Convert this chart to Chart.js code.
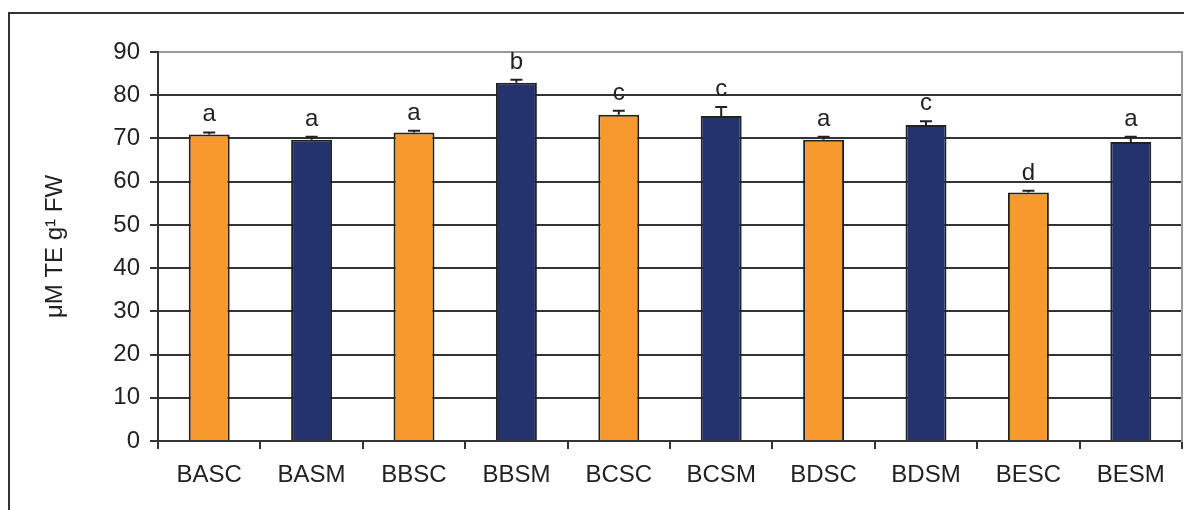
<!DOCTYPE html>
<html>
<head>
<meta charset="utf-8">
<title>Antioxidant capacity</title>
<script src="https://cdn.jsdelivr.net/npm/chart.js@4.4.1/dist/chart.umd.min.js"></script>
<style>
    body { margin: 0; background: #fff; }
    #wrap { position: relative; width: 1184px; height: 510px; }
</style>
</head>
<body>
<div id="wrap"><canvas id="antioxChart"></canvas></div>
<script>
// Data
const categories = ['BASC', 'BASM', 'BBSC', 'BBSM', 'BCSC', 'BCSM', 'BDSC', 'BDSM', 'BESC', 'BESM'];
const means = [70.9, 69.7, 71.4, 82.9, 75.5, 75.2, 69.7, 73.1, 57.5, 69.2];
const errors = [0.5, 0.7, 0.4, 0.7, 0.9, 2.1, 0.7, 0.9, 0.4, 1.2];
const letters = ['a', 'a', 'a', 'b', 'c', 'c', 'a', 'c', 'd', 'a'];
const yTicks = [0, 10, 20, 30, 40, 50, 60, 70, 80, 90];

const orange = '#F7992D';
const navy = '#24326E';
const barColors = categories.map((c, i) => i % 2 === 0 ? orange : navy);
const font = 'Liberation Sans, Arial, sans-serif';

// Outer frame of the figure (only top and left edges are inside the picture)
const framePlugin = {
    id: 'frame',
    beforeDraw(chart) {
        const c = chart.ctx;
        c.save();
        c.strokeStyle = '#333';
        c.lineWidth = 2;
        c.beginPath();
        c.moveTo(9, chart.height);
        c.lineTo(9, 13);
        c.lineTo(chart.width, 13);
        c.stroke();
        c.restore();
    }
};

// Upper error bars and significance letters
const errorPlugin = {
    id: 'errorBars',
    afterDatasetsDraw(chart) {
        const c = chart.ctx;
        const meta = chart.getDatasetMeta(0);
        const y = chart.scales.y;
        c.save();
        c.strokeStyle = '#222';
        c.lineWidth = 2;
        c.fillStyle = '#222';
        c.font = '24px ' + font;
        c.textAlign = 'center';
        c.textBaseline = 'alphabetic';
        meta.data.forEach((bar, i) => {
            const top = y.getPixelForValue(means[i] + errors[i]);
            c.beginPath();
            c.moveTo(bar.x, bar.y);
            c.lineTo(bar.x, top);
            c.moveTo(bar.x - 6, top);
            c.lineTo(bar.x + 6, top);
            c.stroke();
            c.fillText(letters[i], bar.x, top - 11);
        });
        c.restore();
    }
};

const ctx = document.getElementById('antioxChart').getContext('2d');
const chart = new Chart(ctx, {
    type: 'bar',
    data: {
        labels: categories,
        datasets: [{
            data: means,
            backgroundColor: barColors,
            borderColor: '#222',
            borderWidth: 2,
            borderSkipped: 'bottom',
            barPercentage: 0.4,
            categoryPercentage: 1.0
        }]
    },
    options: {
        responsive: true,
        maintainAspectRatio: false,
        animation: false,
        layout: { padding: { top: 52, left: 0, right: 0, bottom: 0 } },
        plugins: {
            legend: { display: false },
            tooltip: { enabled: false }
        },
        scales: {
            x: {
                grid: {
                    offset: true,
                    drawOnChartArea: false,
                    tickLength: 8,
                    color: '#333',
                    lineWidth: 2
                },
                border: { color: '#333', width: 2 },
                ticks: {
                    color: '#222',
                    padding: 12,
                    font: { family: font, size: 24 },
                    maxRotation: 0
                },
                afterFit(scale) { scale.height = 69; }
            },
            y: {
                min: 0,
                max: 90,
                afterBuildTicks(scale) {
                    scale.ticks = yTicks.map(v => ({ value: v }));
                },
                grid: {
                    color: (c) => c.tick && c.tick.value === 90 ? '#999' : '#333',
                    tickColor: '#333',
                    lineWidth: 2,
                    tickLength: 8
                },
                border: { color: '#333', width: 2 },
                ticks: {
                    color: '#222',
                    padding: 10,
                    font: { family: font, size: 24 }
                },
                title: {
                    display: true,
                    text: 'μM TE g¹ FW',
                    color: '#222',
                    font: { family: font, size: 24 },
                    padding: { top: 41, bottom: 0 }
                },
                afterFit(scale) { scale.width = 158; }
            },
            y2: {
                position: 'right',
                min: 0,
                max: 90,
                grid: { drawOnChartArea: false, drawTicks: false },
                border: { color: '#999', width: 2 },
                ticks: { display: false },
                afterFit(scale) { scale.width = 2; }
            }
        }
    },
    plugins: [framePlugin, errorPlugin]
});
</script>
</body>
</html>
